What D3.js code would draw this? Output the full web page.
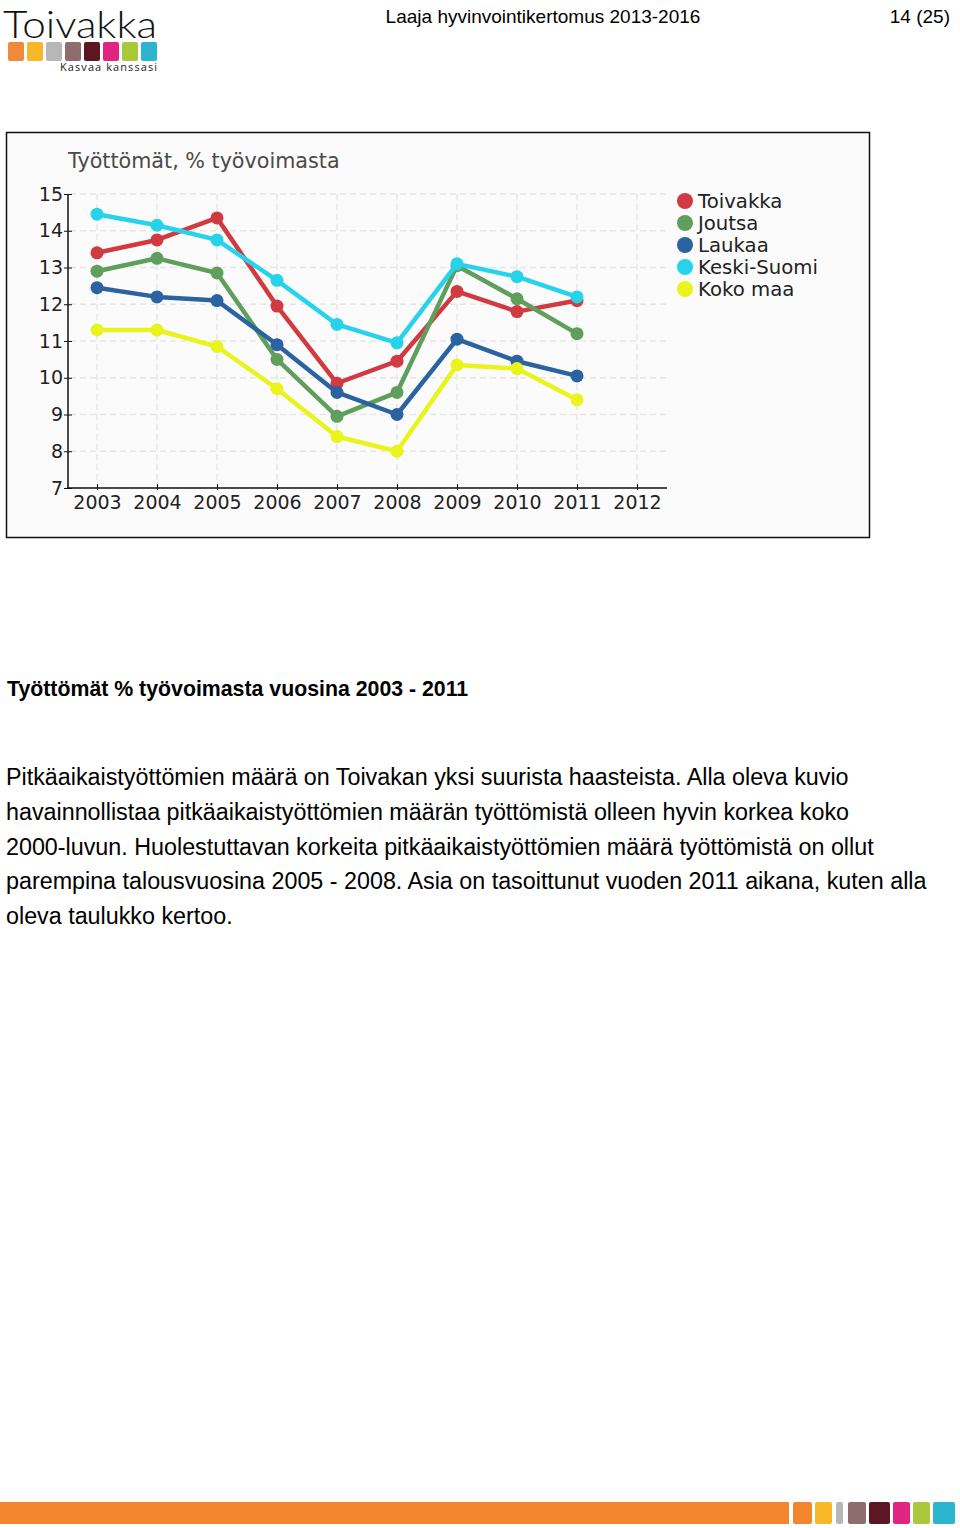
<!DOCTYPE html>
<html>
<head>
<meta charset="utf-8">
<script src="https://cdn.jsdelivr.net/npm/d3@7"></script>
<style>
  body { margin: 0; background: #fff; }
  svg { display: block; }
</style>
</head>
<body>
<div id="page"></div>
<script>
const years = ['2003', '2004', '2005', '2006', '2007', '2008', '2009', '2010', '2011', '2012'];
const dataYears = ['2003', '2004', '2005', '2006', '2007', '2008', '2009', '2010', '2011'];
const yTicks = [7, 8, 9, 10, 11, 12, 13, 14, 15];

const seriesNames = ['Toivakka', 'Joutsa', 'Laukaa', 'Keski-Suomi', 'Koko maa'];
const seriesColors = ['#d13a40', '#5f9f5b', '#2b62a0', '#27d3ea', '#e9f41c'];
const toivakka = [13.4, 13.75, 14.35, 11.95, 9.85, 10.45, 12.35, 11.8, 12.1];
const joutsa = [12.9, 13.25, 12.85, 10.5, 8.95, 9.6, 13.05, 12.15, 11.2];
const laukaa = [12.45, 12.2, 12.1, 10.9, 9.6, 9.0, 11.05, 10.45, 10.05];
const keskiSuomi = [14.45, 14.15, 13.75, 12.65, 11.45, 10.95, 13.1, 12.75, 12.2];
const kokoMaa = [11.3, 11.3, 10.85, 9.7, 8.4, 8.0, 10.35, 10.25, 9.4];
const seriesValues = [toivakka, joutsa, laukaa, keskiSuomi, kokoMaa];

const logoColors = ['#f08a3a', '#f8b629', '#b7b7b7', '#8f6d6e', '#5b1823', '#e0247f', '#a9c83a', '#2db4cf'];
const footerColors = ['#f4852f', '#f8b629', '#b7b7b7', '#8f6d6e', '#5b1823', '#e0247f', '#a9c83a', '#2db4cf'];

const paragraph = [
  'Pitkäaikaistyöttömien määrä on Toivakan yksi suurista haasteista. Alla oleva kuvio',
  'havainnollistaa pitkäaikaistyöttömien määrän työttömistä olleen hyvin korkea koko',
  '2000-luvun. Huolestuttavan korkeita pitkäaikaistyöttömien määrä työttömistä on ollut',
  'parempina talousvuosina 2005 - 2008. Asia on tasoittunut vuoden 2011 aikana, kuten alla',
  'oleva taulukko kertoo.'
];

const svg = d3.select('#page')
  .append('svg')
    .attr('width', 960)
    .attr('height', 1528);

// page header
const logo = svg.append('g');
logo.append('text')
  .attr('x', 3)
  .attr('y', 38)
  .attr('textLength', 154)
  .attr('lengthAdjust', 'spacingAndGlyphs')
  .style('font-family', 'Lato, "Noto Sans", sans-serif')
  .style('font-weight', 300)
  .style('font-size', '37px')
  .style('fill', '#111')
  .text('Toivakka');
logo.selectAll('rect')
  .data(logoColors)
  .enter()
  .append('rect')
    .attr('x', (d, i) => 8 + i * 19)
    .attr('y', 42)
    .attr('width', 16)
    .attr('height', 19)
    .attr('rx', 2)
    .style('fill', d => d);
logo.append('text')
  .attr('x', 60)
  .attr('y', 71)
  .attr('textLength', 97)
  .style('font-family', '"Open Sans", sans-serif')
  .style('font-size', '11px')
  .style('fill', '#222')
  .text('Kasvaa kanssasi');

svg.append('text')
  .attr('x', 543)
  .attr('y', 23)
  .attr('text-anchor', 'middle')
  .style('font-family', '"Liberation Sans", Arial, sans-serif')
  .style('font-size', '19px')
  .style('fill', '#000')
  .text('Laaja hyvinvointikertomus 2013-2016');
svg.append('text')
  .attr('x', 950)
  .attr('y', 23)
  .attr('text-anchor', 'end')
  .style('font-family', '"Liberation Sans", Arial, sans-serif')
  .style('font-size', '19px')
  .style('fill', '#000')
  .text('14 (25)');

// chart frame
svg.append('rect')
  .attr('x', 6.5)
  .attr('y', 132.5)
  .attr('width', 863)
  .attr('height', 405)
  .style('fill', '#fbfbfb')
  .style('stroke', '#111')
  .style('stroke-width', 1.5);

const chartFont = '"DejaVu Sans", Verdana, sans-serif';

svg.append('text')
  .attr('x', 68)
  .attr('y', 168)
  .style('font-family', chartFont)
  .style('font-size', '20.7px')
  .style('fill', '#4a4a4a')
  .text('Työttömät, % työvoimasta');

const x = d3.scalePoint()
  .domain(years)
  .range([67, 667])
  .padding(0.5);

const y = d3.scaleLinear()
  .domain([7, 15])
  .range([488, 194]);

// grid
const grid = svg.append('g')
  .style('stroke', '#e6e6e6')
  .style('stroke-width', 1.5)
  .style('stroke-dasharray', '6,4');
grid.selectAll('.h')
  .data(yTicks.slice(1))
  .enter()
  .append('line')
    .attr('x1', 70)
    .attr('x2', 667)
    .attr('y1', d => y(d))
    .attr('y2', d => y(d));
grid.selectAll('.v')
  .data(years)
  .enter()
  .append('line')
    .attr('x1', d => x(d))
    .attr('x2', d => x(d))
    .attr('y1', y(15))
    .attr('y2', y(7));

// axes
const yAxis = svg.append('g')
  .attr('transform', 'translate(68,0)')
  .call(d3.axisLeft(y).tickValues(yTicks).tickSize(4).tickPadding(1));
yAxis.select('.domain')
  .attr('d', `M0,${y(15)}V${y(7)}`)
  .style('stroke', '#111')
  .style('stroke-width', 1.5);
yAxis.selectAll('.tick line')
  .attr('x1', 4)
  .style('stroke', '#111');
yAxis.selectAll('.tick text')
  .style('font-family', chartFont)
  .style('font-size', '19px')
  .style('fill', '#222');

const xAxis = svg.append('g')
  .attr('transform', 'translate(0,488)')
  .call(d3.axisBottom(x).tickSize(-4).tickPadding(8));
xAxis.select('.domain')
  .attr('d', 'M67,0H667')
  .style('stroke', '#111')
  .style('stroke-width', 1.5);
xAxis.selectAll('.tick line')
  .attr('y1', 2)
  .style('stroke', '#111');
xAxis.selectAll('.tick text')
  .style('font-family', chartFont)
  .style('font-size', '19px')
  .style('fill', '#222');

// series
const line = d3.line()
  .x((d, i) => x(dataYears[i]))
  .y(d => y(d));

const series = seriesNames.map((name, i) => ({ name, color: seriesColors[i], values: seriesValues[i] }));

series.forEach(s => {
  const g = svg.append('g');
  g.append('path')
    .datum(s.values)
    .attr('fill', 'none')
    .attr('stroke', s.color)
    .attr('stroke-width', 4.5)
    .attr('stroke-linejoin', 'round')
    .attr('d', line);
  g.selectAll('circle')
    .data(s.values)
    .enter()
    .append('circle')
      .attr('cx', (d, i) => x(dataYears[i]))
      .attr('cy', d => y(d))
      .attr('r', 6.5)
      .style('fill', s.color);
});

// legend
const legend = svg.append('g');
legend.selectAll('circle')
  .data(series)
  .enter()
  .append('circle')
    .attr('cx', 685)
    .attr('cy', (d, i) => 201 + i * 22)
    .attr('r', 8)
    .style('fill', d => d.color);
legend.selectAll('text')
  .data(series)
  .enter()
  .append('text')
    .attr('x', 698)
    .attr('y', (d, i) => 208 + i * 22)
    .style('font-family', chartFont)
    .style('font-size', '19.7px')
    .style('fill', '#222')
    .text(d => d.name);

// body text
svg.append('text')
  .attr('x', 7)
  .attr('y', 696)
  .style('font-family', '"Liberation Sans", Arial, sans-serif')
  .style('font-size', '21.3px')
  .style('font-weight', 'bold')
  .style('fill', '#000')
  .text('Työttömät % työvoimasta vuosina 2003 - 2011');

svg.selectAll('.para')
  .data(paragraph)
  .enter()
  .append('text')
    .attr('class', 'para')
    .attr('x', 6)
    .attr('y', (d, i) => 785 + i * 34.8)
    .style('font-family', '"Liberation Sans", Arial, sans-serif')
    .style('font-size', '23.3px')
    .style('fill', '#000')
    .text(d => d);

// footer
svg.append('rect')
  .attr('x', 0)
  .attr('y', 1502)
  .attr('width', 789)
  .attr('height', 22)
  .style('fill', '#f4852f');
const footerX = [793, 815, 836, 848, 869, 893, 913, 933];
const footerW = [19, 17, 7, 18, 21, 17, 17, 22];
svg.selectAll('.foot')
  .data(footerColors)
  .enter()
  .append('rect')
    .attr('class', 'foot')
    .attr('x', (d, i) => footerX[i])
    .attr('y', 1502)
    .attr('width', (d, i) => footerW[i])
    .attr('height', 22)
    .attr('rx', 2)
    .style('fill', d => d);
</script>
</body>
</html>
